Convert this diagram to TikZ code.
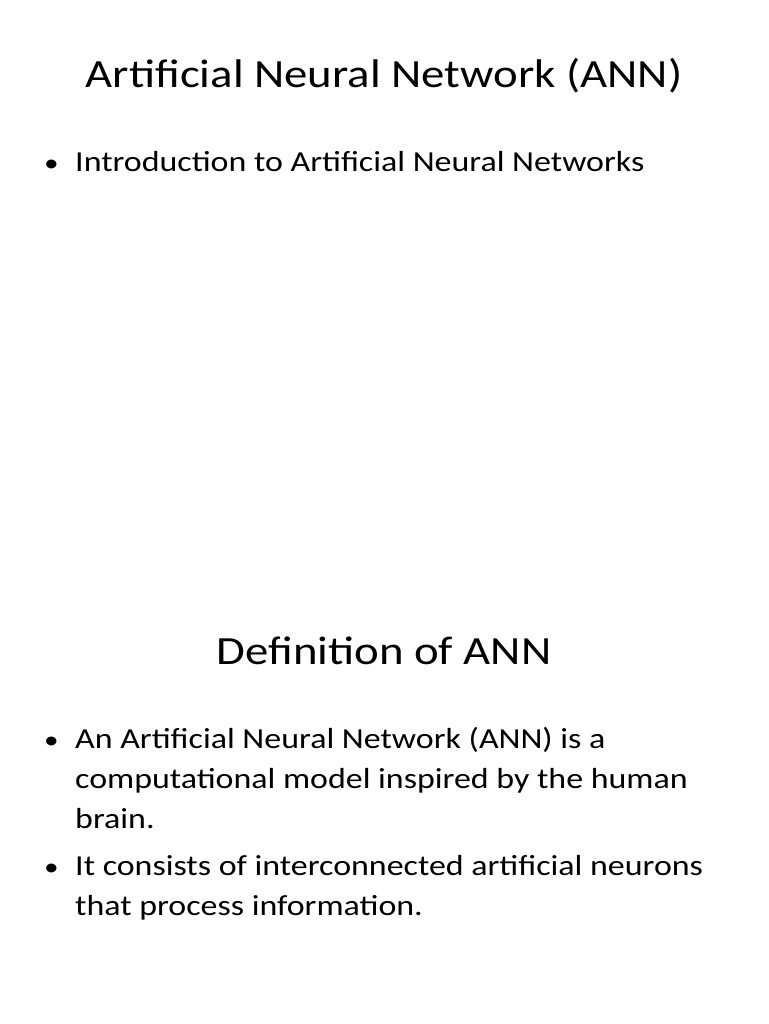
\documentclass[tikz,border=0pt]{standalone}
\usepackage{fontspec}
\setmainfont{Carlito}[FakeStretch=1.17]
\begin{document}
\begin{tikzpicture}[x=1pt,y=-1pt,
  title/.style={anchor=base,font=\fontsize{40}{48}\selectfont,inner sep=0},
  txt/.style={anchor=base west,font=\fontsize{29}{40}\selectfont,inner sep=0},
  bul/.style={anchor=base west,font=\fontsize{25}{40}\selectfont,inner sep=0}]
\useasboundingbox[fill=white] (0,0) rectangle (768,1024);
\node[title] (t1) at (384,88) {Artificial Neural Network (ANN)};
\node[bul] (b1) at (44,172) {•};
\node[txt] (l1) at (75,172) {Introduction to Artificial Neural Networks};
\node[title] (t2) at (384,664) {Definition of ANN};
\node[bul] (b2) at (44,748) {•};
\node[txt] (l2) at (75,748) {An Artificial Neural Network (ANN) is a};
\node[txt] (l3) at (75,788) {computational model inspired by the human};
\node[txt] (l4) at (75,828) {brain.};
\node[bul] (b3) at (44,875) {•};
\node[txt] (l5) at (75,875) {It consists of interconnected artificial neurons};
\node[txt] (l6) at (75,915) {that process information.};
\end{tikzpicture}
\end{document}
